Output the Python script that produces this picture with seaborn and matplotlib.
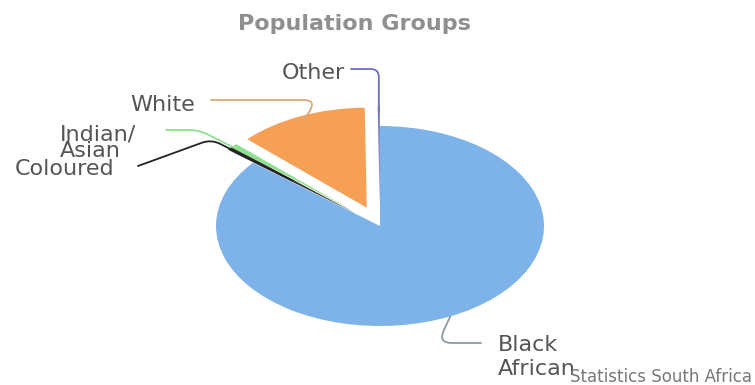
import matplotlib
matplotlib.use("Agg")
import matplotlib.pyplot as plt
import seaborn as sns
import numpy as np

# Population groups (share of total, %)
groups = ["Black African", "Coloured", "Indian/Asian", "White", "Other"]
shares = [85.9, 0.6, 0.5, 12.8, 0.2]
slice_colors = ["#7DB3E8", "#333333", "#8EE08E", "#F5A055", "#6A6FC0"]
line_colors = ["#8E9AA6", "#222222", "#8EE08E", "#D9A878", "#6A6FC0"]
label_texts = ["Black\nAfrican", "Coloured", "Indian/\nAsian", "White", "Other"]

sns.set_theme(style="white")
plt.rcParams["font.family"] = ["DejaVu Sans"]

W, H = 755, 385
fig = plt.figure(figsize=(W / 100, H / 100), dpi=100)
ax = fig.add_axes([0, 0, 1, 1])

wedges, _ = ax.pie(shares, colors=slice_colors, startangle=90, counterclock=False,
                   explode=[0, 0.2, 0.2, 0.2, 0.2],
                   wedgeprops=dict(linewidth=0, edgecolor="none"))
# stretched pie like the source picture
ax.set_aspect("auto")
ax.set_xlim(-380 / 164, 375 / 164)
ax.set_ylim((226 - H) / 100, 226 / 100)
ax.axis("off")


def fp(x, y):
    # pixel position (from top-left) to figure fraction
    return (x / W, 1 - y / H)


# label layout: text pos, alignment, leader start, connection, anchor radius
layout = {
    "Black African": dict(txt=(498, 357), ha="left", ls=1.2, start=(481, 343),
                          conn="angle,angleA=180,angleB=65,rad=14", r=1.0),
    "Coloured": dict(txt=(15, 169), ha="left", ls=1.2, start=(138, 166),
                     conn="angle,angleA=20,angleB=-27,rad=10", r=0.5),
    "Indian/Asian": dict(txt=(60, 143), ha="left", ls=0.8, start=(166, 130),
                         conn="angle,angleA=0,angleB=-27,rad=10", r=0.5),
    "White": dict(txt=(195, 105), ha="right", ls=1.2, start=(211, 100),
                  conn="angle,angleA=0,angleB=60,rad=12", r=0.95),
    "Other": dict(txt=(345, 73), ha="right", ls=1.2, start=(351, 69),
                  conn="angle,angleA=0,angleB=90,rad=8", r=0.95),
}

for w, g, lc, lab in zip(wedges, groups, line_colors, label_texts):
    cfg = layout[g]
    mid = np.deg2rad((w.theta1 + w.theta2) / 2)
    cx, cy = w.center
    anchor = (cx + cfg["r"] * np.cos(mid), cy + cfg["r"] * np.sin(mid))
    ax.annotate("", xy=anchor, xycoords="data",
                xytext=fp(*cfg["start"]), textcoords="figure fraction",
                arrowprops=dict(arrowstyle="-", color=lc, lw=1.3,
                                connectionstyle=cfg["conn"],
                                shrinkA=0, shrinkB=0))
    fig.text(*fp(*cfg["txt"]), lab, ha=cfg["ha"], va="center",
             fontsize=16, color="#555555", linespacing=cfg["ls"])

fig.text(*fp(354, 24), "Population Groups", ha="center", va="center",
         fontsize=16, fontweight="bold", color="#8F8F8F")
fig.text(*fp(752, 377), "Statistics South Africa", ha="right", va="center",
         fontsize=12, color="#777777")

fig.savefig("out.png", dpi=100)
